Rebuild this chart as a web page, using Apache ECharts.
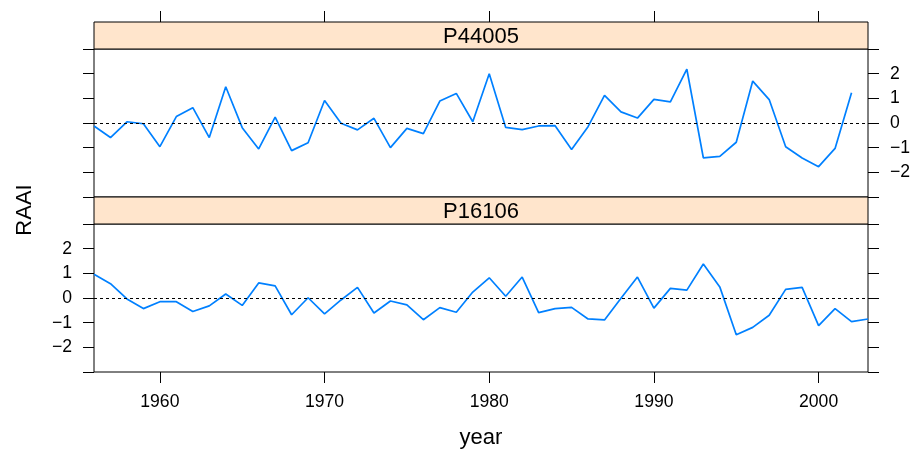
<!DOCTYPE html>
<html>
<head>
<meta charset="utf-8">
<script src="https://cdn.jsdelivr.net/npm/echarts@6/dist/echarts.min.js"></script>
<style>
  html, body { margin: 0; padding: 0; background: #fff; }
  #chart { width: 912px; height: 449px; }
</style>
</head>
<body>
<div id="chart"></div>
<script>
const years = [1956, 1957, 1958, 1959, 1960, 1961, 1962, 1963, 1964, 1965,
  1966, 1967, 1968, 1969, 1970, 1971, 1972, 1973, 1974, 1975,
  1976, 1977, 1978, 1979, 1980, 1981, 1982, 1983, 1984, 1985,
  1986, 1987, 1988, 1989, 1990, 1991, 1992, 1993, 1994, 1995,
  1996, 1997, 1998, 1999, 2000, 2001, 2002, 2003]
// upper panel, ends in 2002
const p44005 = [-0.12, -0.59, 0.05, -0.03, -0.96, 0.26, 0.62, -0.59, 1.47, -0.19,
  -1.05, 0.24, -1.12, -0.80, 0.91, -0.01, -0.28, 0.19, -1.00, -0.22,
  -0.43, 0.89, 1.20, 0.05, 2.00, -0.18, -0.27, -0.12, -0.11, -1.07,
  -0.15, 1.12, 0.45, 0.20, 0.96, 0.86, 2.18, -1.41, -1.35, -0.78,
  1.70, 0.95, -0.96, -1.42, -1.77, -1.03, 1.23]
// lower panel
const p16106 = [0.96, 0.58, -0.04, -0.43, -0.15, -0.15, -0.55, -0.32, 0.16, -0.30,
  0.61, 0.49, -0.68, 0.01, -0.64, -0.08, 0.43, -0.61, -0.12, -0.28,
  -0.88, -0.39, -0.58, 0.24, 0.82, 0.07, 0.85, -0.59, -0.43, -0.38,
  -0.85, -0.89, -0.01, 0.85, -0.41, 0.39, 0.32, 1.38, 0.45, -1.49,
  -1.19, -0.70, 0.35, 0.43, -1.12, -0.43, -0.96, -0.85]
const xTicks = [1960, 1970, 1980, 1990, 2000]
const panelNames = ['P44005', 'P16106']

const FONT = '"Liberation Sans", Arial, sans-serif'
const LEFT = 94
const WIDTH = 774
const STRIP = 27
const PANEL_H = 148
const TOP = 22
const TICK = 11

const chart = echarts.init(document.getElementById('chart'))

const pairs = (vals) => vals.map((v, i) => [years[i], v])
const fmtY = (v) => {
  if (Math.abs(v) > 2.5) return ''
  return v < 0 ? '\u2212' + (-v) : String(v)
}

const panelTop = (i) => TOP + STRIP + i * (STRIP + PANEL_H)

// fixed panel boxes, no auto shrinking for labels
const grids = [0, 1].map(i => ({
  left: LEFT, top: panelTop(i), width: WIDTH, height: PANEL_H,
  outerBoundsMode: 'none', containLabel: false,
  show: true, borderColor: '#000', borderWidth: 1, backgroundColor: 'transparent'
}))

const baseX = {
  type: 'value', min: 1956, max: 2003,
  splitLine: { show: false },
  axisLine: { show: false, onZero: false },
  axisTick: { show: true, inside: false, length: TICK, customValues: xTicks, lineStyle: { color: '#000', width: 1 } },
  axisLabel: { show: false, customValues: xTicks }
}

const xAxes = [
  Object.assign({}, baseX, { gridIndex: 0, position: 'top', offset: STRIP }),
  // labels + title of the bottom axis
  Object.assign({}, baseX, {
    gridIndex: 1, position: 'bottom',
    axisTick: { show: false },
    axisLabel: {
      show: true, customValues: xTicks, margin: 21, fontSize: 17.6, fontFamily: FONT, color: '#000',
      formatter: (v) => String(v)
    },
    name: 'year', nameLocation: 'middle', nameGap: 55,
    nameTextStyle: { fontSize: 22, fontFamily: FONT, color: '#000' }
  }),
  // tick marks of the bottom axis
  Object.assign({}, baseX, { gridIndex: 1, position: 'bottom' })
]

const yAxis = (grid, pos, labels) => ({
  type: 'value', gridIndex: grid, position: pos, min: -3, max: 3, interval: 1,
  splitLine: { show: false },
  axisLine: { show: false, onZero: false },
  axisTick: { show: true, inside: false, length: TICK, lineStyle: { color: '#000', width: 1 } },
  axisLabel: { show: labels, margin: 22, fontSize: 17.6, fontFamily: FONT, color: '#000', formatter: fmtY }
})

const yAxes = [
  yAxis(0, 'left', false),
  yAxis(0, 'right', true),
  yAxis(1, 'left', true),
  yAxis(1, 'right', false)
]

const zeroLine = {
  silent: true, symbol: ['none', 'none'], label: { show: false },
  lineStyle: { color: '#000', type: [3, 3], width: 1 },
  data: [{ yAxis: 0 }]
}

const series = [p44005, p16106].map((vals, i) => ({
  name: panelNames[i], type: 'line',
  xAxisIndex: i, yAxisIndex: i * 2,
  data: pairs(vals), showSymbol: false,
  lineStyle: { color: '#0080FF', width: 1.7 },
  markLine: zeroLine
}))

const strips = []
panelNames.forEach((name, i) => {
  const y = panelTop(i) - STRIP
  strips.push({
    type: 'rect', z: 10,
    shape: { x: LEFT, y: y, width: WIDTH, height: STRIP },
    style: { fill: '#FFE5CC', stroke: '#000', lineWidth: 1 }
  })
  strips.push({
    type: 'text', z: 11, x: LEFT + WIDTH / 2, y: y + STRIP / 2 + 1,
    style: { text: name, fill: '#000', font: '22px ' + FONT, textAlign: 'center', textVerticalAlign: 'middle' }
  })
})
strips.push({
  type: 'text', z: 11, x: 25, y: 210, rotation: Math.PI / 2,
  style: { text: 'RAAI', fill: '#000', font: '22px ' + FONT, textAlign: 'center', textVerticalAlign: 'middle' }
})

chart.setOption({
  animation: false,
  backgroundColor: '#fff',
  grid: grids,
  xAxis: xAxes,
  yAxis: yAxes,
  series: series,
  graphic: strips
})
</script>
</body>
</html>
